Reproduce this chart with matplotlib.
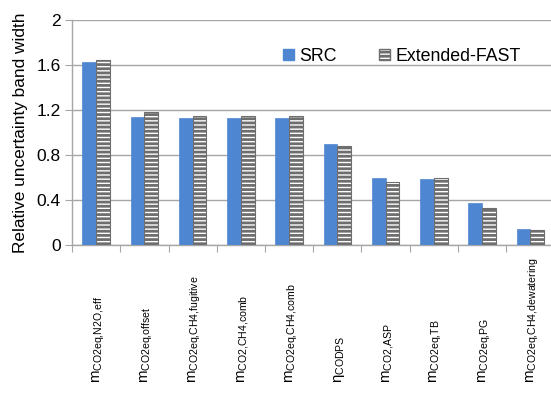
import matplotlib
matplotlib.use("Agg")
import matplotlib.pyplot as plt
import matplotlib.transforms as mtransforms
from matplotlib.patches import Patch
import numpy as np

plt.rcParams['font.family'] = ['Liberation Sans', 'DejaVu Sans']
plt.rcParams['mathtext.fontset'] = 'custom'
plt.rcParams['mathtext.rm'] = 'Liberation Sans'
plt.rcParams['mathtext.it'] = 'Liberation Sans'
plt.rcParams['hatch.linewidth'] = 2.0
plt.rcParams['hatch.color'] = '#000000'

# parameter labels (symbol, subscript)
symbols = ['m', 'm', 'm', 'm', 'm', 'η', 'm', 'm', 'm', 'm']
subscripts = ['CO2eq,N2O,eff', 'CO2eq,offset', 'CO2eq,CH4,fugitive',
              'CO2,CH4,comb', 'CO2eq,CH4,comb', 'CODPS', 'CO2,ASP',
              'CO2eq,TB', 'CO2eq,PG', 'CO2eq,CH4,dewatering']
src = [1.63, 1.14, 1.13, 1.13, 1.13, 0.90, 0.60, 0.59, 0.37, 0.14]
efast = [1.64, 1.18, 1.15, 1.15, 1.15, 0.88, 0.56, 0.60, 0.33, 0.13]
yticks = [0, 0.4, 0.8, 1.2, 1.6, 2]
ytick_labels = ['0', '0.4', '0.8', '1.2', '1.6', '2']

fig = plt.figure(figsize=(5.51, 3.96), dpi=100)
ax = fig.add_axes([72 / 551, 151 / 396, 482.5 / 551, 225 / 396])

x = np.arange(len(src))
w = 0.285
blue = '#4F86D2'
ax.bar(x - w / 2, src, w, color=blue, edgecolor=blue, linewidth=0.5,
       label='SRC', zorder=3)
ax.bar(x + w / 2, efast, w, color='white', edgecolor='#6e6e6e',
       linewidth=0.8, hatch='----', label='Extended-FAST', zorder=3)

ax.set_xlim(-0.5, len(src) - 0.5)
ax.set_ylim(0, 2)
ax.set_yticks(yticks)
ax.set_yticklabels(ytick_labels, fontsize=12.5)
ax.yaxis.grid(True, color='#a6a6a6', linewidth=1.0, zorder=0)
ax.set_axisbelow(True)

for s in ['top', 'right']:
    ax.spines[s].set_visible(False)
for s in ['left', 'bottom']:
    ax.spines[s].set_color('#a6a6a6')
    ax.spines[s].set_linewidth(1.0)

ax.tick_params(axis='y', length=5, color='#a6a6a6', pad=3)
ax.set_xticks(np.arange(len(src) + 1) - 0.5)
ax.set_xticklabels([])
ax.tick_params(axis='x', length=5, color='#a6a6a6')

ax.set_ylabel('Relative uncertainty band width', fontsize=12.4, labelpad=6)

trans = mtransforms.blended_transform_factory(ax.transData, ax.transAxes)
for i, (sym, sub) in enumerate(zip(symbols, subscripts)):
    sub_tex = sub.replace(',', '{,}')
    ax.text(i + 0.05, -0.615, r'$\mathregular{' + sym + '_{' + sub_tex + '}}$',
            transform=trans, rotation=90, rotation_mode='anchor',
            ha='left', va='center', fontsize=10.8)

handles = [Patch(facecolor=blue, edgecolor=blue),
           Patch(facecolor='white', edgecolor='#6e6e6e', hatch='----')]
ax.legend(handles, ['SRC', 'Extended-FAST'], loc='center',
          bbox_to_anchor=(402 / 551, 0.858), bbox_transform=fig.transFigure,
          ncol=2, frameon=False, fontsize=12.8, handlelength=0.6,
          handleheight=0.6, handletextpad=0.3, columnspacing=2.4)

fig.savefig('out.png', dpi=100)
